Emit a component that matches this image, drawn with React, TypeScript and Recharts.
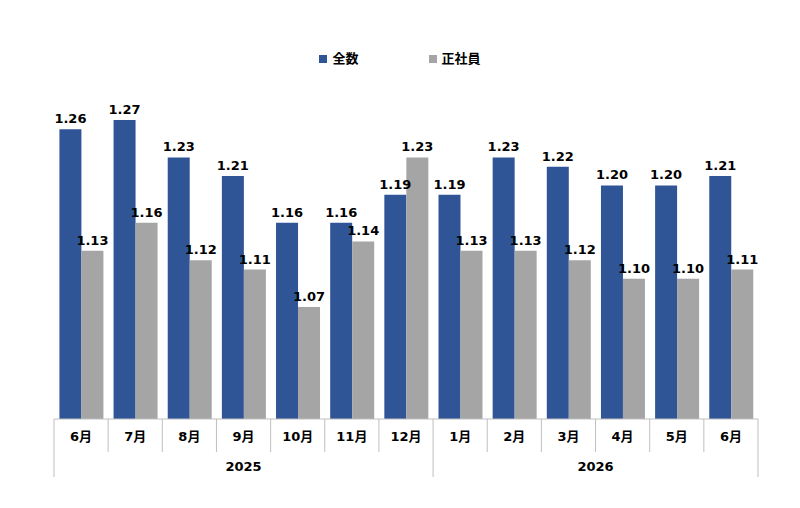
import React from "react";
import { BarChart, Bar, XAxis, YAxis, LabelList } from "recharts";

const months = ["6月", "7月", "8月", "9月", "10月", "11月", "12月", "1月", "2月", "3月", "4月", "5月", "6月"];
const yearOfMonth = ["2025", "2025", "2025", "2025", "2025", "2025", "2025", "2026", "2026", "2026", "2026", "2026", "2026"];
const totalValues = [1.26, 1.27, 1.23, 1.21, 1.16, 1.16, 1.19, 1.19, 1.23, 1.22, 1.2, 1.2, 1.21];
const regularValues = [1.13, 1.16, 1.12, 1.11, 1.07, 1.14, 1.23, 1.13, 1.13, 1.12, 1.1, 1.1, 1.11];
const seriesNames = ["全数", "正社員"];
const seriesColors = ["#2F5597", "#A5A5A5"];

const data = months.map((m, i) => ({
  key: i,
  month: m,
  year: yearOfMonth[i],
  total: totalValues[i],
  regular: regularValues[i],
}));

// year groups -> where to draw the label
const yearGroups: { year: string; first: number; last: number }[] = [];
yearOfMonth.forEach((y, i) => {
  const g = yearGroups[yearGroups.length - 1];
  if (g && g.year === y) g.last = i;
  else yearGroups.push({ year: y, first: i, last: i });
});

const W = 800;
const H = 508;
const M = { top: 92, right: 42, bottom: 29, left: 54 };
const AXIS_H = 60;
const HALF = (W - M.left - M.right) / months.length / 2;
const FONT = '"DejaVu Sans", "Noto Sans CJK JP", sans-serif';
const LINE = "#BFBFBF";

const MonthTick = (props: any) => {
  const { x, y, payload } = props;
  const i = payload.index;
  const isGroupStart = yearGroups.some((g) => g.first === i);
  const yearLabels = yearGroups
    .filter((g) => Math.floor((g.first + g.last) / 2) === i)
    .map((g) => {
      const mid = (g.first + g.last) / 2;
      const lx = mid === i ? x : x + HALF;
      return (
        <text key={g.year} x={lx} y={y + 52} textAnchor="middle" fontFamily={FONT} fontWeight="bold" fontSize={13} fill="#000">
          {g.year}
        </text>
      );
    });
  return (
    <g>
      <line x1={x - HALF} x2={x - HALF} y1={y} y2={y + (isGroupStart ? 58 : 33)} stroke={LINE} />
      {i === months.length - 1 && <line x1={x + HALF} x2={x + HALF} y1={y} y2={y + 58} stroke={LINE} />}
      <text x={x} y={y + 22} textAnchor="middle" fontFamily={FONT} fontWeight="bold" fontSize={13} fill="#000">
        {months[i]}
      </text>
      {yearLabels}
    </g>
  );
};

const labelStyle = { fontFamily: FONT, fontWeight: "bold", fontSize: 13, fill: "#000" };
const fmt = (v: any) => Number(v).toFixed(2);

export default function App() {
  return (
    <div style={{ position: "relative", width: W, height: H, background: "#fff" }}>
      <style>{`body{margin:0}`}</style>
      <div
        style={{
          position: "absolute",
          top: 48,
          left: 0,
          width: W,
          display: "flex",
          justifyContent: "center",
          fontFamily: FONT,
          fontWeight: "bold",
          fontSize: 13,
          gap: 70,
          zIndex: 2,
        }}
      >
        {seriesNames.map((n, i) => (
          <div key={n} style={{ display: "flex", alignItems: "center" }}>
            <span style={{ display: "inline-block", width: 8, height: 8, background: seriesColors[i], marginRight: 5, marginTop: 3 }} />
            <span>{n}</span>
          </div>
        ))}
      </div>
      <BarChart width={W} height={H} data={data} margin={M} barCategoryGap="10%" barGap={0}>
        <XAxis
          dataKey="key"
          height={AXIS_H}
          tickLine={false}
          tickSize={0}
          tickMargin={0}
          axisLine={{ stroke: LINE }}
          tick={<MonthTick />}
          interval={0}
        />
        <YAxis hide domain={[0.95, 1.3]} allowDataOverflow />
        <Bar dataKey="total" name={seriesNames[0]} fill={seriesColors[0]} isAnimationActive={false}>
          <LabelList dataKey="total" position="top" offset={6} formatter={fmt} style={labelStyle} />
        </Bar>
        <Bar dataKey="regular" name={seriesNames[1]} fill={seriesColors[1]} isAnimationActive={false}>
          <LabelList dataKey="regular" position="top" offset={6} formatter={fmt} style={labelStyle} />
        </Bar>
      </BarChart>
    </div>
  );
}
